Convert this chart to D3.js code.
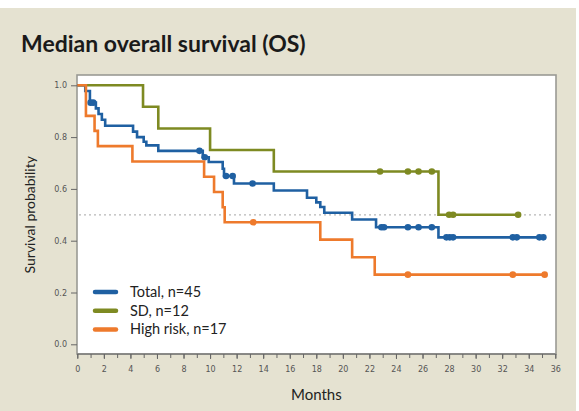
<!DOCTYPE html>
<html>
<head>
<meta charset="utf-8">
<script src="https://cdn.jsdelivr.net/npm/d3@7"></script>
<style>
  html, body { margin: 0; padding: 0; background: #ffffff; }
  svg { display: block; }
</style>
</head>
<body>
<svg id="chart" width="579" height="411"></svg>
<script>
// Kaplan–Meier step data (months, survival probability)
const totalTimes = [0, 0.6, 0.95, 1.4, 1.6, 1.85, 2.1, 4.2, 4.5, 5.0, 5.2, 6.1, 9.45, 9.9, 10.95, 11.05, 11.8, 14.8, 17.3, 18.0, 18.3, 18.6, 20.7, 22.5, 27.2];
const totalSurv  = [1, 0.978, 0.933, 0.911, 0.889, 0.867, 0.844, 0.821, 0.80, 0.782, 0.768, 0.747, 0.722, 0.704, 0.678, 0.650, 0.621, 0.594, 0.566, 0.548, 0.530, 0.508, 0.482, 0.452, 0.413];
const totalCensored = [1.0, 1.2, 9.2, 9.6, 11.2, 11.7, 13.2, 22.9, 23.1, 24.9, 25.7, 26.7, 27.8, 28.05, 28.3, 32.8, 33.1, 34.8, 35.1];
const totalEnd = 35.1;

const sdTimes = [0, 4.95, 6.1, 10.0, 14.8, 27.2];
const sdSurv  = [1, 0.917, 0.833, 0.75, 0.667, 0.5];
const sdCensored = [22.8, 24.9, 25.7, 26.7, 28.0, 28.3, 33.2];
const sdEnd = 33.2;

const highTimes = [0, 0.65, 1.3, 1.55, 4.15, 9.55, 10.3, 10.95, 11.1, 18.3, 20.7, 22.4];
const highSurv  = [1, 0.882, 0.824, 0.765, 0.706, 0.647, 0.588, 0.529, 0.471, 0.404, 0.336, 0.269];
const highCensored = [13.25, 24.9, 32.8, 35.2];
const highEnd = 35.2;

const seriesNames = ["Total, n=45", "SD, n=12", "High risk, n=17"];
const seriesColors = ["#1f60a2", "#7e8a22", "#ee7a2c"];

const xTickValues = d3.range(0, 37, 2);
const xMinorTicks = d3.range(0, 37, 1);
const yTickValues = [0, 0.2, 0.4, 0.6, 0.8, 1.0];
const medianLine = 0.5;

const svg = d3.select("#chart");
const W = 579, H = 411;
const textFont = "Lato, 'Open Sans', sans-serif";

// panel background
svg.append("rect").attr("x", 0).attr("y", 0).attr("width", W).attr("height", H).attr("fill", "#ffffff");
svg.append("rect").attr("x", 0).attr("y", 8).attr("width", 576).attr("height", H - 8).attr("fill", "#e5e2d1");

svg.append("text")
  .attr("x", 21).attr("y", 52)
  .attr("font-family", textFont)
  .attr("font-weight", "bold")
  .attr("font-size", 23)
  .attr("fill", "#1a1a1a")
  .text("Median overall survival (OS)");

// plot frame
const frame = { left: 77, top: 75, right: 556, bottom: 354 };
const x = d3.scaleLinear().domain([0, 36]).range([77.3, 555.3]);
const y = d3.scaleLinear().domain([0, 1]).range([344.3, 85.3]);

svg.append("rect")
  .attr("x", frame.left).attr("y", frame.top)
  .attr("width", frame.right - frame.left).attr("height", frame.bottom - frame.top)
  .attr("fill", "#ffffff").attr("stroke", "#9a9a94").attr("stroke-width", 1.6);

// y axis ticks + labels
const yAxis = d3.axisLeft(y).tickValues(yTickValues).tickFormat(d3.format(".1f")).tickSize(6).tickPadding(4);
const gy = svg.append("g").attr("transform", `translate(${frame.left},0)`).call(yAxis);
gy.select(".domain").remove();
gy.selectAll("line").attr("stroke", "#666").attr("stroke-width", 1);
gy.selectAll("text").attr("fill", "#555").attr("font-size", 8).attr("font-family", "'DejaVu Sans', sans-serif");

// x axis: minor ticks every month, labels every 2
const gxMinor = svg.append("g").attr("transform", `translate(0,${frame.bottom})`)
  .call(d3.axisBottom(x).tickValues(xMinorTicks).tickSize(4).tickFormat(""));
gxMinor.select(".domain").remove();
gxMinor.selectAll("line").attr("stroke", "#666");
const gx = svg.append("g").attr("transform", `translate(0,${frame.bottom})`)
  .call(d3.axisBottom(x).tickValues(xTickValues).tickSize(5).tickPadding(7));
gx.select(".domain").attr("stroke", "#666").attr("d", `M${x(0)},0H${x(36)}`);
gx.selectAll("line").attr("stroke", "#666");
gx.selectAll("text").attr("fill", "#555").attr("font-size", 8).attr("font-family", "'DejaVu Sans', sans-serif");

// axis titles
svg.append("text")
  .attr("x", (x(0) + x(36)) / 2).attr("y", 400)
  .attr("text-anchor", "middle")
  .attr("font-family", textFont)
  .attr("font-size", 15).attr("fill", "#222")
  .text("Months");
svg.append("text")
  .attr("transform", `translate(35,${(y(0) + y(1)) / 2}) rotate(-90)`)
  .attr("text-anchor", "middle")
  .attr("font-family", textFont)
  .attr("font-size", 14).attr("fill", "#222")
  .text("Survival probability");

// 0.5 reference line
svg.append("line")
  .attr("x1", frame.left + 2).attr("x2", frame.right - 2)
  .attr("y1", y(medianLine)).attr("y2", y(medianLine))
  .attr("stroke", "#b8b8b8").attr("stroke-width", 1.2).attr("stroke-dasharray", "2,3");

function survAt(times, surv, t) {
  let s = surv[0];
  for (let i = 0; i < times.length; i++) if (times[i] <= t) s = surv[i];
  return s;
}

const line = d3.line().x(d => x(d[0])).y(d => y(d[1])).curve(d3.curveStepAfter);

function drawSeries(times, surv, censored, end, color) {
  const pts = times.map((t, i) => [t, surv[i]]);
  pts.push([end, surv[surv.length - 1]]);
  svg.append("path").attr("d", line(pts)).attr("fill", "none")
    .attr("stroke", color).attr("stroke-width", 2.6).attr("stroke-linejoin", "miter");
  svg.append("g").selectAll("circle").data(censored).join("circle")
    .attr("cx", d => x(d)).attr("cy", d => y(survAt(times, surv, d)))
    .attr("r", 3.3).attr("fill", color);
}

drawSeries(sdTimes, sdSurv, sdCensored, sdEnd, seriesColors[1]);
drawSeries(totalTimes, totalSurv, totalCensored, totalEnd, seriesColors[0]);
drawSeries(highTimes, highSurv, highCensored, highEnd, seriesColors[2]);

// legend
const legend = svg.append("g").attr("transform", "translate(95,292)");
seriesNames.forEach((name, i) => {
  const g = legend.append("g").attr("transform", `translate(0,${i * 18.7})`);
  g.append("line").attr("x1", 0).attr("x2", 21).attr("y1", 0).attr("y2", 0)
    .attr("stroke", seriesColors[i]).attr("stroke-width", 4.5).attr("stroke-linecap", "round");
  g.append("text").attr("x", 35).attr("y", 0).attr("dy", "0.35em")
    .attr("font-family", textFont)
    .attr("font-size", 14.5).attr("fill", "#222").text(name);
});
</script>
</body>
</html>
